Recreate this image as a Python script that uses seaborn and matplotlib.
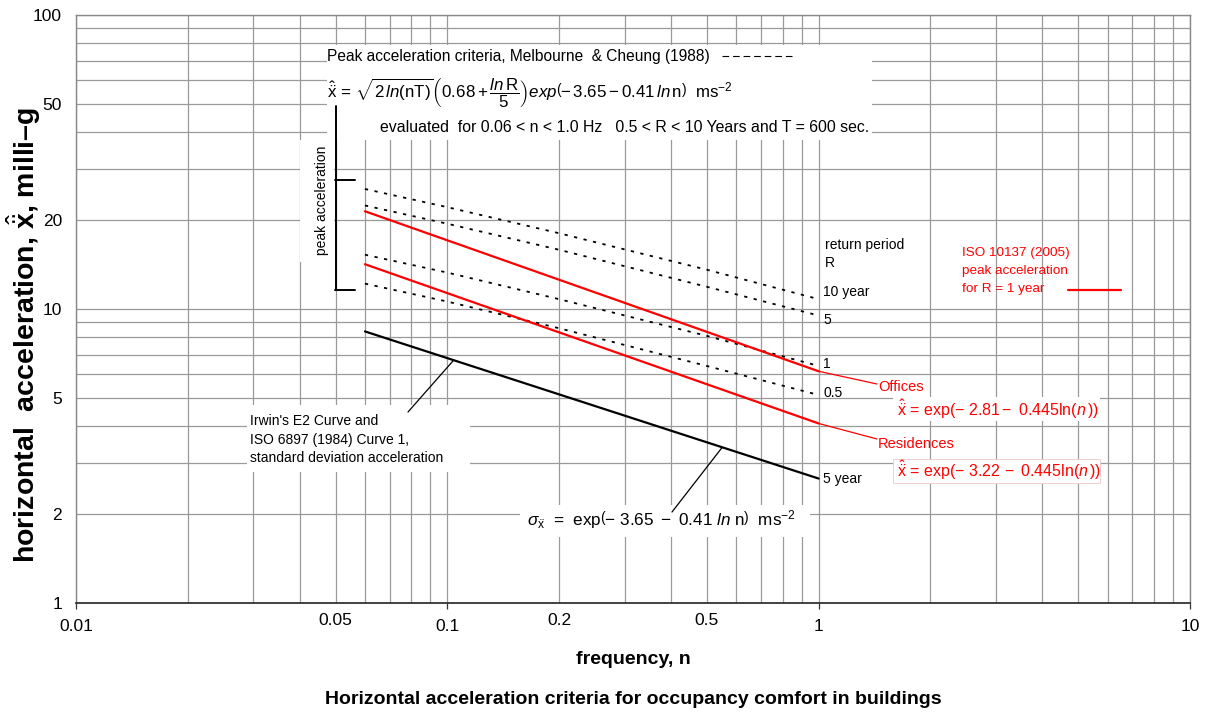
import numpy as np
import pandas as pd
import matplotlib
matplotlib.use("Agg")
import matplotlib.pyplot as plt
from matplotlib.ticker import FixedLocator, FuncFormatter
from matplotlib.patches import Rectangle
import seaborn as sns

# ---- data (accelerations in milli-g) ----
freq_ends = [0.06, 1.0]
offices = [21.5, 6.14]
residences = [14.2, 4.08]
irwin_sigma = [8.39, 2.65]

freq_peak = [0.06, 0.1, 0.2, 0.5, 1.0]
peak_R10 = [25.6, 22.2, 18.1, 13.6, 10.8]
peak_R5 = [22.5, 19.5, 15.9, 11.9, 9.5]
peak_R1 = [15.3, 13.3, 10.8, 8.1, 6.4]
peak_R05 = [12.2, 10.6, 8.6, 6.4, 5.1]

iso_freq = [4.7, 6.5]
iso_level = [11.6, 11.6]

x_major_ticks = [0.01, 0.1, 1, 10]
x_major_labels = ["0.01", "0.1", "1", "10"]
x_minor_labeled = [0.05, 0.2, 0.5]
x_minor_labels = ["0.05", "0.2", "0.5"]
y_ticks = [1, 2, 5, 10, 20, 50, 100]
y_labels = ["1", "2", "5", "10", "20", "50", "100"]

sns.set_theme(style="white")
plt.rcParams["font.family"] = ["Liberation Sans", "DejaVu Sans"]
plt.rcParams["mathtext.fontset"] = "custom"
plt.rcParams["mathtext.rm"] = "Liberation Sans"
plt.rcParams["mathtext.it"] = "Liberation Sans:italic"
plt.rcParams["mathtext.bf"] = "Liberation Sans:bold"
for key in ("text.color", "axes.labelcolor", "xtick.color", "ytick.color"):
    plt.rcParams[key] = "black"

W, H = 1208, 713
fig = plt.figure(figsize=(W / 100, H / 100), dpi=100)
L, R, T, B = 76, 1190, 15, 603
ax = fig.add_axes([L / W, 1 - B / H, (R - L) / W, (B - T) / H])


def P(x, y):
    """pixel position -> axes fraction"""
    return ((x - L) / (R - L), (B - y) / (B - T))


ax.set_xscale("log")
ax.set_yscale("log")
ax.set_xlim(0.01, 10)
ax.set_ylim(1, 100)

# grid
grid_c = "#9a9a9a"
ax.set_axisbelow(True)
ax.xaxis.set_major_locator(FixedLocator(x_major_ticks))
minor_x = [m * 10.0 ** e for e in (-2, -1, 0) for m in range(2, 10)]
ax.xaxis.set_minor_locator(FixedLocator(minor_x))
ax.xaxis.set_major_formatter(FuncFormatter(
    lambda v, p: x_major_labels[int(np.argmin([abs(np.log10(v / t)) for t in x_major_ticks]))]))


def minor_fmt(v, p):
    for t, s in zip(x_minor_labeled, x_minor_labels):
        if abs(np.log10(v / t)) < 1e-6:
            return s
    return ""


ax.xaxis.set_minor_formatter(FuncFormatter(minor_fmt))
ax.yaxis.set_major_locator(FixedLocator(y_ticks))
ax.yaxis.set_major_formatter(FuncFormatter(
    lambda v, p: y_labels[int(np.argmin([abs(np.log10(v / t)) for t in y_ticks]))]))
minor_y = [m * 10.0 ** e for e in (0, 1) for m in (3, 4, 6, 7, 8, 9)]
ax.yaxis.set_minor_locator(FixedLocator(minor_y))
ax.yaxis.set_minor_formatter(FuncFormatter(lambda v, p: ""))
ax.grid(which="both", color=grid_c, lw=0.9)

ax.tick_params(axis="x", which="major", length=4, width=0.9, color="#333333",
               direction="out", pad=7.5, labelsize=12.5, bottom=True)
ax.tick_params(axis="x", which="minor", length=0, pad=7.5, labelsize=12.5, bottom=True)
ax.tick_params(axis="y", which="both", length=0, pad=10, labelsize=12.5, left=True)

for side in ("left", "top", "right"):
    ax.spines[side].set_color("#888888")
    ax.spines[side].set_linewidth(1.0)
ax.spines["bottom"].set_color("#333333")
ax.spines["bottom"].set_linewidth(1.3)


# white label backgrounds
def white_box(x0, y0, x1, y1, ec="none"):
    a = P(x0, y1)
    b = P(x1, y0)
    ax.add_patch(Rectangle(a, b[0] - a[0], b[1] - a[1], transform=ax.transAxes,
                           facecolor="white", edgecolor=ec, lw=0.6, zorder=1.5))


white_box(327, 45, 872, 140)
white_box(300, 140, 334, 262)
white_box(247, 405, 470, 472)
white_box(520, 505, 810, 537)
white_box(893, 397, 1100, 421)
white_box(893, 459, 1100, 483, ec="#f2c8c8")

red = "#ff0000"

# curves
peak_dots = (0, (1.8, 3.6))
for vals in (peak_R10, peak_R5, peak_R1, peak_R05):
    sns.lineplot(x=freq_peak, y=vals, ax=ax, color="black", lw=1.3,
                 linestyle=peak_dots, estimator=None, zorder=3)
sns.lineplot(x=freq_ends, y=offices, ax=ax, color=red, lw=1.6, estimator=None, zorder=3)
sns.lineplot(x=freq_ends, y=residences, ax=ax, color=red, lw=1.6, estimator=None, zorder=3)
sns.lineplot(x=freq_ends, y=irwin_sigma, ax=ax, color="black", lw=1.6, estimator=None, zorder=3)
sns.lineplot(x=iso_freq, y=iso_level, ax=ax, color=red, lw=1.6, estimator=None, zorder=3)


def on_line(xs, ys, n):
    return 10 ** np.interp(np.log10(n), np.log10(xs), np.log10(ys))


# leader lines
leader = dict(arrowstyle="-", lw=0.9, shrinkA=0, shrinkB=0)
ax.annotate("", xy=(0.104, on_line(freq_ends, irwin_sigma, 0.104)), xycoords="data",
            xytext=P(408, 412), textcoords="axes fraction",
            arrowprops=dict(color="black", **leader), zorder=4)
ax.annotate("", xy=(0.55, on_line(freq_ends, irwin_sigma, 0.55)), xycoords="data",
            xytext=P(672, 512), textcoords="axes fraction",
            arrowprops=dict(color="black", **leader), zorder=4)
ax.annotate("", xy=(freq_ends[-1], offices[-1]), xycoords="data",
            xytext=P(877, 384), textcoords="axes fraction",
            arrowprops=dict(color=red, **leader), zorder=4)
ax.annotate("", xy=(freq_ends[-1], residences[-1]), xycoords="data",
            xytext=P(877, 439), textcoords="axes fraction",
            arrowprops=dict(color=red, **leader), zorder=4)

# "peak acceleration" bracket
br = dict(color="black", lw=1.4, transform=ax.transAxes, zorder=4)
(xa, ya), (xb, yb) = P(336, 106), P(336, 290)
ax.plot([xa, xb], [ya, yb], **br)
for yy in (180, 290):
    (x0, y0), (x1, y1) = P(335, yy), P(355, yy)
    ax.plot([x0, x1], [y0, y1], **br)
ax.text(*P(322, 200), "peak acceleration", rotation=90, ha="center", va="center",
        fontsize=10, transform=ax.transAxes, zorder=5)


def txt(x, y, s, **kw):
    kw.setdefault("fontsize", 10)
    kw.setdefault("va", "center")
    kw.setdefault("ha", "left")
    ax.text(*P(x, y), s, transform=ax.transAxes, zorder=5, **kw)


# header block
txt(327, 56, "Peak acceleration criteria, Melbourne  & Cheung (1988)", fontsize=11.2)
(x0, y0), (x1, y1) = P(722, 56), P(795, 56)
ax.plot([x0, x1], [y0, y1], color="black", lw=0.8, linestyle=(0, (6, 3.5)),
        transform=ax.transAxes, zorder=5)
txt(327, 93, r"$\hat{\ddot{\mathrm{x}}}\,=\,\sqrt{2\,\mathit{ln}(\mathrm{nT})}"
    r"\left(0.68+\dfrac{\mathit{ln}\,\mathrm{R}}{5}\right)\mathit{exp}"
    r"\left(-\,3.65-0.41\,\mathit{ln}\,\mathrm{n}\right)$  ms$^{-2}$", fontsize=12.2)
txt(380, 128, r"evaluated  for 0.06 < n < 1.0 Hz   0.5 < R < 10 Years and T = 600 sec.",
    fontsize=11.4)

# return period labels
txt(825, 245, "return period", fontsize=10)
txt(825, 263, "R", fontsize=10)
txt(823, 292, "10 year", fontsize=10)
txt(823, 320, "5", fontsize=10)
txt(823, 364, "1", fontsize=10)
txt(823, 393, "0.5", fontsize=10)
txt(823, 479, "5 year", fontsize=10)

txt(962, 253, "ISO 10137 (2005)", color=red, fontsize=9.7)
txt(962, 271, "peak acceleration", color=red, fontsize=9.7)
txt(962, 289, "for R = 1 year", color=red, fontsize=9.7)
txt(878, 387, "Offices", color=red, fontsize=10.5)
txt(878, 444, "Residences", color=red, fontsize=10.5)
txt(897, 409, r"$\hat{\ddot{\mathrm{x}}}$ = exp$\left(-\ 2.81-\ 0.445\mathrm{ln}(\mathit{n}\,)\right)$",
    color=red, fontsize=11.5)
txt(897, 470, r"$\hat{\ddot{\mathrm{x}}}$ = exp$\left(-\ 3.22\,-\ 0.445\mathrm{ln}(\mathit{n}\,)\right)$",
    color=red, fontsize=11.5)

txt(250, 421, "Irwin's E2 Curve and", fontsize=10)
txt(250, 440, "ISO 6897 (1984) Curve 1,", fontsize=10)
txt(250, 458, "standard deviation acceleration", fontsize=10)
txt(527, 520, r"$\sigma_{\ddot{\mathrm{x}}}$  =  exp$\left(-\ 3.65\ -\ 0.41\ \mathit{ln}\ \mathrm{n}\right)$  ms$^{-2}$",
    fontsize=12.3)

# axis labels and caption
ax.set_xlabel("frequency, n", fontsize=14, fontweight="bold")
ax.xaxis.set_label_coords(*P(633, 651))
ax.set_ylabel(r"horizontal  acceleration, $\hat{\ddot{\mathbf{x}}}$, milli–g",
              fontsize=20.5, fontweight="bold")
ax.yaxis.set_label_coords(*P(43, 335))
fig.text(633 / W, 1 - 700 / H, "Horizontal acceleration criteria for occupancy comfort in buildings",
         ha="center", va="center", fontsize=14, fontweight="bold")

fig.savefig("out.png", dpi=100, facecolor="white")
